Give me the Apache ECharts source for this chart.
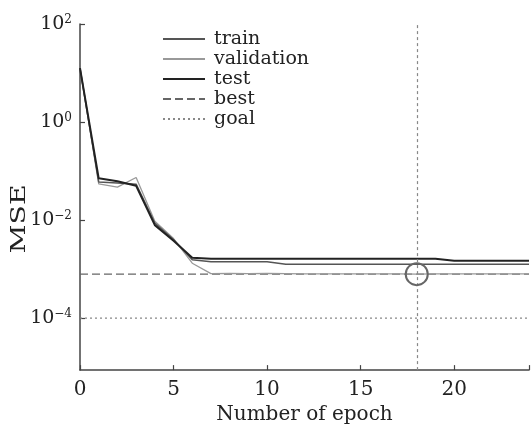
<!DOCTYPE html>
<html>
<head>
<meta charset="utf-8">
<script src="https://cdn.jsdelivr.net/npm/echarts@6/dist/echarts.min.js"></script>
<style>html,body{margin:0;padding:0;background:#fff}#c{width:532px;height:430px}</style>
</head>
<body>
<div id="c"></div>
<script>
// Epoch numbers
var epochs = [0,1,2,3,4,5,6,7,8,9,10,11,12,13,14,15,16,17,18,19,20,21,22,23,24];
// MSE values (log-scale plot)
var trainMSE = [12.6,0.060,0.057,0.054,0.0087,0.0040,0.00155,0.00141,0.00141,0.00141,0.00141,0.00126,0.00126,0.00126,0.00126,0.00126,0.00126,0.00126,0.00126,0.00126,0.00126,0.00126,0.00126,0.00126,0.00126];
var validationMSE = [12.6,0.055,0.047,0.074,0.0095,0.0042,0.00132,0.00081,0.00082,0.00081,0.00082,0.00081,0.00080,0.00080,0.00080,0.00080,0.00080,0.00080,0.00079,0.00080,0.00080,0.00080,0.00080,0.00080,0.00080];
var testMSE = [12.6,0.071,0.062,0.050,0.0079,0.0038,0.00170,0.00162,0.00162,0.00162,0.00162,0.00162,0.00162,0.00162,0.00162,0.00162,0.00162,0.00162,0.00162,0.00162,0.00148,0.00148,0.00148,0.00148,0.00148];
var bestEpoch = 18;
var bestMSE = 0.00079;
var goalMSE = 0.0001;
// Axis tick labels
var yTickExponents = [2, 0, -2, -4];
var xTicks = [0, 5, 10, 15, 20];
var legendNames = ['train','validation','test','best','goal'];

var chart = echarts.init(document.getElementById('c'));
function lg(v){ return Math.log10(v); }
function pts(arr){ return epochs.map(function(e,i){ return [e, lg(arr[i])]; }); }
var font = 'DejaVu Serif';
var xMax = 24;

chart.setOption({
  animation: false,
  backgroundColor: '#fff',
  grid: { left: 80, right: 3, top: 24, bottom: 52 },
  legend: {
    data: legendNames,
    orient: 'vertical',
    left: 157, top: 24,
    itemWidth: 42, itemHeight: 12, itemGap: 0,
    itemStyle: { opacity: 0 },
    textStyle: { fontFamily: font, fontSize: 19, color: '#222', lineHeight: 20, padding: [0,0,0,4] },
    inactiveColor: '#ccc'
  },
  xAxis: {
    type: 'value', min: 0, max: xMax, interval: 5,
    name: 'Number of epoch', nameLocation: 'middle', nameGap: 32,
    nameTextStyle: { fontFamily: font, fontSize: 20, color: '#222' },
    axisLine: { show: true, onZero: false, lineStyle: { color: '#444', width: 1.5 } },
    axisTick: { show: true, inside: true, length: 5, lineStyle: { color: '#444', width: 1.2 } },
    axisLabel: { fontFamily: font, fontSize: 20, color: '#222', margin: 10,
      customValues: xTicks },
    splitLine: { show: false }
  },
  yAxis: {
    type: 'value', min: -5.06, max: 2,
    axisLine: { show: true, onZero: false, lineStyle: { color: '#444', width: 1.5 } },
    axisTick: { show: true, inside: true, length: 5, lineStyle: { color: '#444', width: 1.2 },
      customValues: yTickExponents },
    axisLabel: {
      customValues: yTickExponents, margin: 8,
      fontFamily: font, fontSize: 19, color: '#222',
      formatter: function(v){
        var e = Math.round(v);
        var s = e < 0 ? '\u2212' + (-e) : '' + e;
        return '{b|10}{s|' + s + '}';
      },
      rich: {
        b: { fontFamily: font, fontSize: 19, color: '#222' },
        s: { fontFamily: font, fontSize: 12, color: '#222', verticalAlign: 'top', padding: [0,0,8,0] }
      }
    },
    splitLine: { show: false }
  },
  graphic: [{
    type: 'text', x: 20, y: 219, rotation: Math.PI/2, scaleX: 1.35,
    style: { text: 'MSE', font: '21px "DejaVu Serif"', fill: '#222', align: 'center', verticalAlign: 'middle' }
  }],
  series: [
    { name: 'train', type: 'line', data: pts(trainMSE), symbol: 'none',
      lineStyle: { color: '#555', width: 1.5 }, itemStyle: { color: '#555' }, z: 3 },
    { name: 'validation', type: 'line', data: pts(validationMSE), symbol: 'none',
      lineStyle: { color: '#999', width: 1.3 }, itemStyle: { color: '#999' }, z: 2 },
    { name: 'test', type: 'line', data: pts(testMSE), symbol: 'none',
      lineStyle: { color: '#222', width: 2 }, itemStyle: { color: '#222' }, z: 4 },
    { name: 'best', type: 'line', data: [[0, lg(bestMSE)], [xMax, lg(bestMSE)]], symbol: 'none',
      lineStyle: { color: '#666', width: 1.2, type: [8,4] }, itemStyle: { color: '#666' }, z: 1,
      markPoint: {
        symbol: 'circle', symbolSize: 22, silent: true,
        label: { show: false },
        itemStyle: { color: 'rgba(0,0,0,0)', borderColor: '#666', borderWidth: 2 },
        data: [{ coord: [bestEpoch, lg(bestMSE)] }]
      },
      markLine: {
        symbol: 'none', silent: true, label: { show: false },
        lineStyle: { color: '#888', width: 1.2, type: [3,3] },
        data: [{ xAxis: bestEpoch }]
      }
    },
    { name: 'goal', type: 'line', data: [[0, lg(goalMSE)], [xMax, lg(goalMSE)]], symbol: 'none',
      lineStyle: { color: '#888', width: 1.2, type: [2,3] }, itemStyle: { color: '#888' }, z: 1 }
  ]
});
</script>
</body>
</html>
